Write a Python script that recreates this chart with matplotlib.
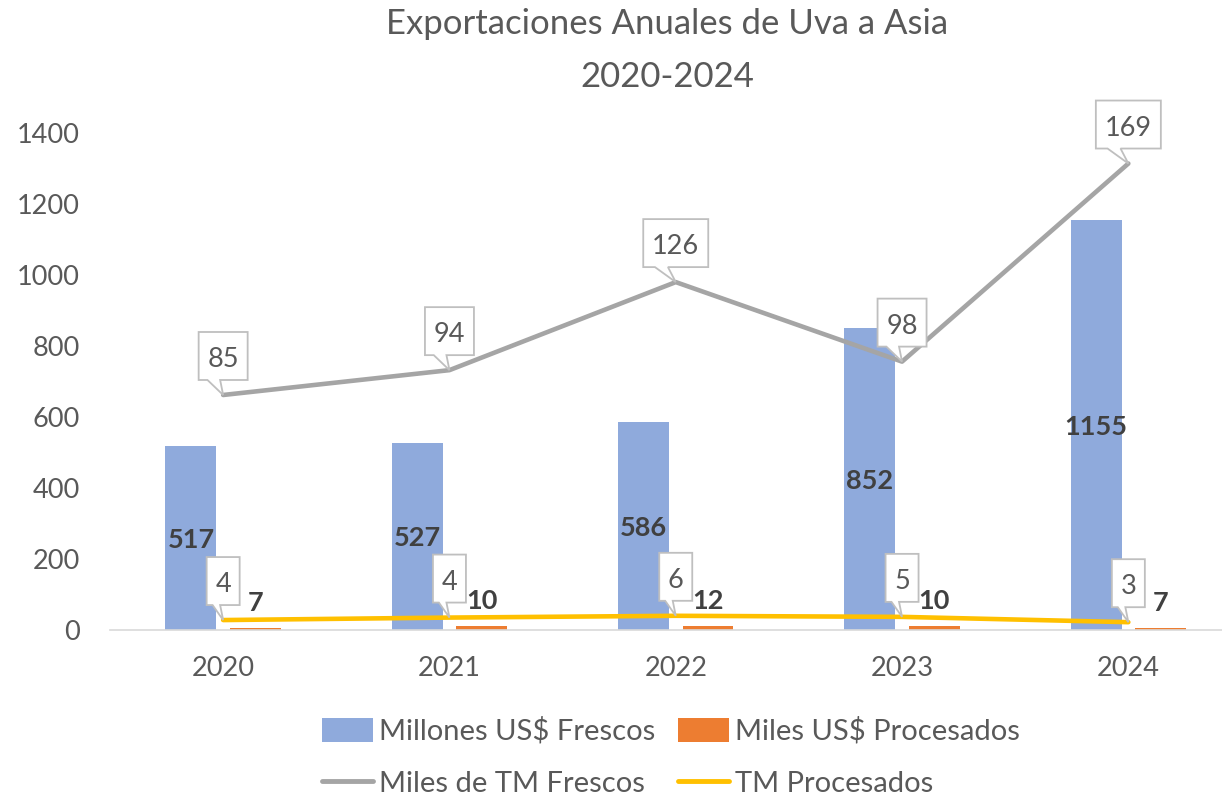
import matplotlib
matplotlib.use("Agg")
import matplotlib.pyplot as plt
import matplotlib.transforms as mtransforms
from matplotlib.patches import Polygon
from matplotlib.lines import Line2D
import numpy as np

plt.rcParams["font.family"] = ["Lato", "DejaVu Sans"]

# data
years = ["2020", "2021", "2022", "2023", "2024"]
fresh_usd = [517, 527, 586, 852, 1155]          # Millones US$ Frescos
proc_usd = [7, 10, 12, 10, 7]                   # Miles US$ Procesados
fresh_tm = [662, 732, 980, 756, 1314]           # Miles de TM Frescos (plotted height)
fresh_tm_labels = ["85", "94", "126", "98", "169"]
proc_tm = [28, 35, 40, 37, 22]                  # TM Procesados (plotted height)
proc_tm_labels = ["4", "4", "6", "5", "3"]

BLUE = "#8FAADC"
ORANGE = "#ED7D31"
GREY = "#A5A5A5"
YELLOW = "#FFC000"
TXT = "#595959"
LBL = "#404040"
FS = 19.5
FS_LEG = 21

W, H = 1222, 799
fig = plt.figure(figsize=(W / 100, H / 100), dpi=100)
ax = fig.add_axes([110 / W, 169 / H, 1131.5 / W, 497 / H])

x = np.arange(len(years))
off, bw = 0.1425, 0.225
b1 = ax.bar(x - off, fresh_usd, bw, color=BLUE, zorder=2)
b2 = ax.bar(x + off, proc_usd, bw, color=ORANGE, zorder=2)
l1, = ax.plot(x, fresh_tm, color=GREY, lw=3.3, solid_capstyle="round",
              solid_joinstyle="round", zorder=3)
l2, = ax.plot(x, proc_tm, color=YELLOW, lw=3.3, solid_capstyle="round",
              solid_joinstyle="round", zorder=3)

ax.set_xlim(-0.5, len(years) - 0.5)
ax.set_ylim(0, 1400)
ax.set_yticks(range(0, 1401, 200))
ax.set_xticks(x, years)
for s in ("left", "top", "right"):
    ax.spines[s].set_visible(False)
ax.spines["bottom"].set_color("#D9D9D9")
ax.spines["bottom"].set_linewidth(1.2)
ax.tick_params(axis="both", length=0, labelsize=FS, labelcolor=TXT)
ax.tick_params(axis="y", pad=21.5)
ax.tick_params(axis="x", pad=19)

# bar value labels
for xi, v in zip(x, fresh_usd):
    ax.annotate(str(v), (xi - off, v / 2), xytext=(0, -10), textcoords="offset pixels",
                ha="center", va="baseline", fontsize=FS, fontweight="bold",
                color=LBL, zorder=4)
for xi, v in zip(x, proc_usd):
    ax.annotate(str(v), (xi + off, v), xytext=(0, 17), textcoords="offset pixels",
                ha="center", va="baseline", fontsize=FS, fontweight="bold",
                color=LBL, zorder=4)


def callout(xd, yd, label):
    """White speech-bubble label sitting above a line point."""
    w = 17 + 16 * len(label)
    L, R = -w / 2, w / 2
    B, T = 15, 63
    bl = L + 0.18 * w
    br = min(-3, bl + 13)
    verts = [(L, B), (bl, B), (0, 0), (br, B), (R, B), (R, T), (L, T)]
    tr = mtransforms.Affine2D() + mtransforms.ScaledTranslation(xd, yd, ax.transData)
    poly = Polygon(verts, closed=True, transform=tr, facecolor="white",
                   edgecolor="#BFBFBF", lw=1.3, zorder=5, clip_on=False)
    ax.add_artist(poly)
    ax.annotate(label, (xd, yd), xytext=(0, 28), textcoords="offset pixels",
                ha="center", va="baseline", fontsize=FS, color=TXT, zorder=6,
                annotation_clip=False)


for xi, v, lab in zip(x, fresh_tm, fresh_tm_labels):
    callout(xi, v, lab)
for xi, v, lab in zip(x, proc_tm, proc_tm_labels):
    callout(xi, v, lab)

# title
fig.text(667 / W, (H - 34) / H, "Exportaciones Anuales de Uva a Asia",
         ha="center", va="baseline", fontsize=25, color=TXT)
fig.text(667 / W, (H - 87) / H, "2020-2024",
         ha="center", va="baseline", fontsize=25, color=TXT)

# legend (column-wise fill -> rows: bars, lines)
h_grey = Line2D([], [], color=GREY, lw=3.5, solid_capstyle="round")
h_yel = Line2D([], [], color=YELLOW, lw=3.5, solid_capstyle="round")
fig.legend([b1, h_grey, b2, h_yel],
           ["Millones US$ Frescos", "Miles de TM Frescos",
            "Miles US$ Procesados", "TM Procesados"],
           ncol=2, loc="center", bbox_to_anchor=(671 / W, (H - 757) / H),
           bbox_transform=fig.transFigure, frameon=False, fontsize=FS_LEG,
           labelcolor=TXT, handlelength=1.75, handleheight=0.85,
           handletextpad=0.2, columnspacing=0.8, labelspacing=0.85,
           borderpad=0)

fig.savefig("out.png", dpi=100)
